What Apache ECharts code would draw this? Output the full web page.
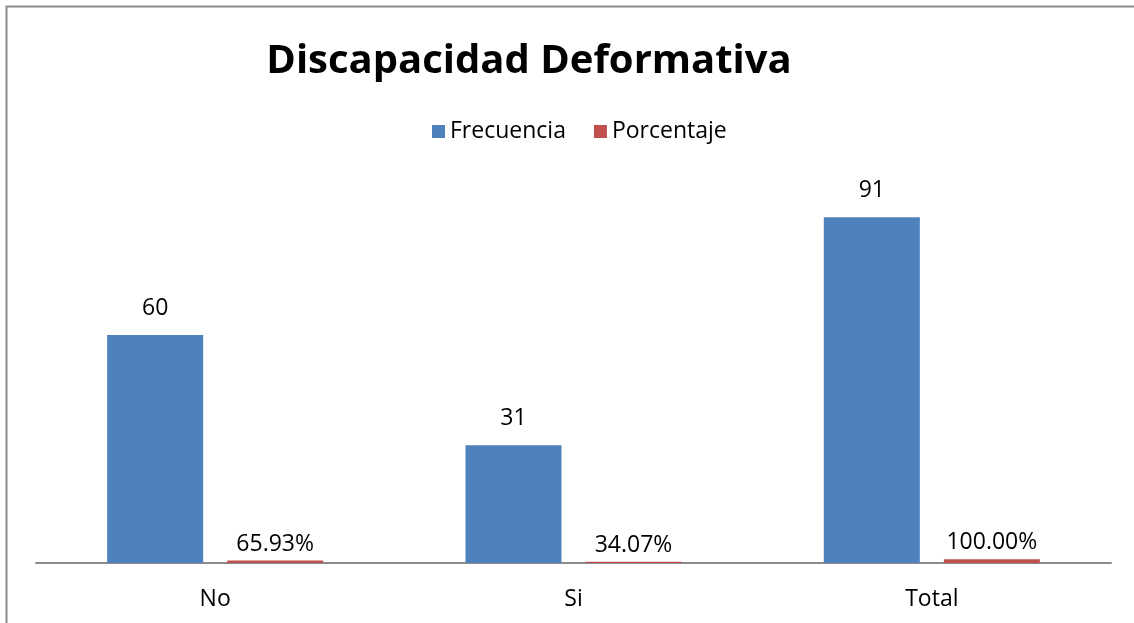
<!DOCTYPE html>
<html>
<head>
<meta charset="utf-8">
<script src="https://cdn.jsdelivr.net/npm/echarts@6/dist/echarts.min.js"></script>
<style>
  html, body { margin: 0; padding: 0; background: #fff; }
  #myEcharts { width: 1134px; height: 623px; }
</style>
</head>
<body>
<div id="myEcharts"></div>
<script>
// datos
const categorias = ['No', 'Si', 'Total'];
const frecuencia = [60, 31, 91];
const porcentaje = [0.6593, 0.3407, 1.0];
const porcentajeEtiquetas = ['65.93%', '34.07%', '100.00%'];

let chart = echarts.init(document.getElementById('myEcharts'));
const fuente = '"Open Sans", "Noto Sans", sans-serif';

chart.setOption({
    animation: false,
    textStyle: { fontFamily: fuente },
    title: {
        text: 'Discapacidad Deformativa',
        left: 524,
        top: 37,
        textAlign: 'center',
        textStyle: { fontSize: 40, fontWeight: 'bold', color: '#000', fontFamily: fuente }
    },
    legend: {
        data: ['Frecuencia', 'Porcentaje'],
        left: 427,
        top: 115,
        itemWidth: 13,
        itemHeight: 13,
        itemGap: 28,
        icon: 'rect',
        textStyle: { fontSize: 23, color: '#000', fontFamily: fuente }
    },
    grid: {
        left: 36,
        right: 23,
        top: 183,
        bottom: 60
    },
    xAxis: {
        type: 'category',
        data: categorias,
        axisLine: { lineStyle: { color: '#8c8c8c', width: 2 } },
        axisTick: { show: false },
        axisLabel: { fontSize: 23, color: '#000', margin: 25, fontFamily: fuente }
    },
    yAxis: {
        type: 'value',
        min: 0,
        max: 100,
        show: false
    },
    series: [
        {
            name: 'Frecuencia',
            type: 'bar',
            data: frecuencia,
            barWidth: '26.8%',
            barGap: '25%',
            itemStyle: { color: '#4F81BD' },
            label: {
                show: true,
                position: 'top',
                distance: 15,
                fontSize: 23,
                color: '#000',
                fontFamily: fuente
            }
        },
        {
            name: 'Porcentaje',
            type: 'bar',
            data: porcentaje,
            barWidth: '26.8%',
            itemStyle: { color: '#C0504D' },
            label: {
                show: true,
                position: 'top',
                distance: 5,
                fontSize: 23,
                color: '#000',
                fontFamily: fuente,
                formatter: function (p) { return porcentajeEtiquetas[p.dataIndex]; }
            }
        }
    ],
    graphic: [
        {
            type: 'polyline',
            shape: { points: [[1140, 6.5], [6.5, 6.5], [6.5, 630]] },
            style: { stroke: '#8c8c8c', lineWidth: 2, fill: null },
            silent: true
        }
    ]
});
</script>
</body>
</html>
